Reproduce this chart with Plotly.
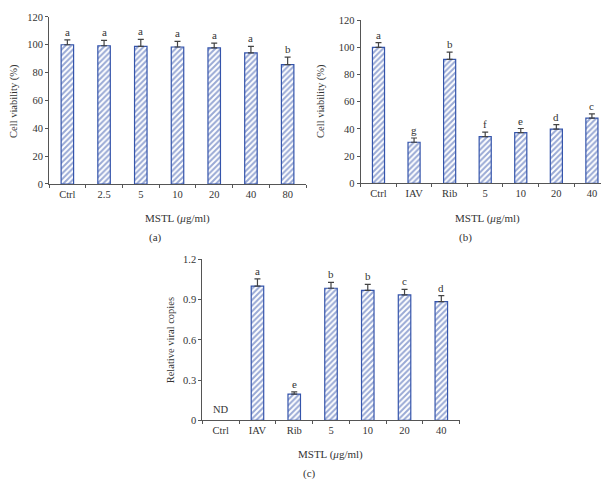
import plotly.graph_objects as go

# ---- data ----
cats_a = ["Ctrl", "2.5", "5", "10", "20", "40", "80"]
vals_a = [100.0, 99.3, 98.8, 98.4, 97.7, 94.1, 85.7]
err_a = [3.5, 3.8, 5.0, 4.0, 3.5, 4.7, 5.4]
letters_a = ["a", "a", "a", "a", "a", "a", "b"]

cats_b = ["Ctrl", "IAV", "Rib", "5", "10", "20", "40"]
vals_b = [100.0, 30.2, 91.1, 34.3, 37.2, 39.8, 48.0]
err_b = [3.4, 3.1, 5.3, 3.3, 3.1, 3.4, 3.1]
letters_b = ["a", "g", "b", "f", "e", "d", "c"]

cats_c = ["Ctrl", "IAV", "Rib", "5", "10", "20", "40"]
vals_c = [None, 1.0, 0.196, 0.984, 0.968, 0.934, 0.884]
err_c = [0, 0.054, 0.017, 0.044, 0.045, 0.041, 0.045]
letters_c = ["", "a", "e", "b", "b", "c", "d"]

xtitle = "MSTL (<i>μ</i>g/ml)"
ytitle_ab = "Cell viability (%)"
ytitle_c = "Relative viral copies"

FONT = "Liberation Serif"
BLUE = "#3454ab"
TXT = "#333333"
AX = "#555555"
W, H = 609, 479

def px_x(p):
    return p / W

def px_y(p):
    return (H - p) / H

fig = go.Figure()

panels = [
    (cats_a, vals_a, err_a, letters_a, "x", "y"),
    (cats_b, vals_b, err_b, letters_b, "x2", "y2"),
    (cats_c, vals_c, err_c, letters_c, "x3", "y3"),
]

for cats, vals, errs, letters, xa, ya in panels:
    fig.add_trace(go.Bar(
        x=cats, y=vals, xaxis=xa, yaxis=ya, width=0.34,
        marker=dict(color="white", line=dict(color=BLUE, width=1.2),
                    pattern=dict(shape="/", fgcolor=BLUE, size=4,
                                 solidity=0.5, fillmode="overlay")),
        error_y=dict(type="data", array=errs, arrayminus=[0] * len(errs),
                     symmetric=False, color="#444444", thickness=1.2, width=3),
        showlegend=False,
    ))
    for i, (v, e, l) in enumerate(zip(vals, errs, letters)):
        if v is None or not l:
            continue
        fig.add_annotation(x=i, y=v + e, xref=xa, yref=ya, text=l,
                           showarrow=False, yanchor="bottom", yshift=0,
                           font=dict(family=FONT, size=11, color=TXT))

fig.add_annotation(x=0, y=0.085, xref="x3", yref="y3", text="ND",
                   showarrow=False, font=dict(family=FONT, size=10.5, color=TXT))

axis_common = dict(showline=True, linecolor=AX, linewidth=1, ticks="outside",
                   ticklen=3, tickcolor=AX, showgrid=False, zeroline=False,
                   tickfont=dict(family=FONT, size=10.5, color=TXT))

domains = {
    "a": dict(x=[px_x(41), px_x(298)], y=[px_y(175), px_y(4)]),
    "b": dict(x=[px_x(352.7), px_x(601.7)], y=[px_y(174.3), px_y(7.3)]),
    "c": dict(x=[px_x(194.3), px_x(451.7)], y=[px_y(417), px_y(252)]),
}

xcommon = dict(type="category", tickson="boundaries", range=[-0.5, 6.5],
               tickangle=0, **axis_common)

fig.update_layout(
    width=W, height=H, margin=dict(l=0, r=0, t=0, b=0),
    paper_bgcolor="white", plot_bgcolor="white",
    xaxis=dict(domain=domains["a"]["x"], anchor="y", categoryarray=cats_a,
               categoryorder="array", **xcommon),
    yaxis=dict(domain=domains["a"]["y"], anchor="x", range=[0, 120], dtick=20,
               **axis_common),
    xaxis2=dict(domain=domains["b"]["x"], anchor="y2", categoryarray=cats_b,
                categoryorder="array", **xcommon),
    yaxis2=dict(domain=domains["b"]["y"], anchor="x2", range=[0, 120], dtick=20,
                **axis_common),
    xaxis3=dict(domain=domains["c"]["x"], anchor="y3", categoryarray=cats_c,
                categoryorder="array", **xcommon),
    yaxis3=dict(domain=domains["c"]["y"], anchor="x3", range=[0, 1.2], dtick=0.3,
                **axis_common),
)

title_font = dict(family=FONT, size=11, color=TXT)
# axis titles and panel labels
for xc, yc, text in [(169, 210, xtitle), (479, 210, xtitle), (322, 451.5, xtitle),
                     (147, 230, "(a)"), (457.5, 230, "(b)"), (301.7, 471, "(c)")]:
    fig.add_annotation(x=px_x(xc), y=px_y(yc), xref="paper", yref="paper",
                       text=text, showarrow=False, font=title_font,
                       xanchor="center", yanchor="middle")
for xc, yc, text in [(6, 90, ytitle_ab), (313, 90, ytitle_ab), (162, 335, ytitle_c)]:
    fig.add_annotation(x=px_x(xc), y=px_y(yc), xref="paper", yref="paper",
                       text=text, showarrow=False, textangle=-90,
                       font=dict(family=FONT, size=10.5, color=TXT),
                       xanchor="center", yanchor="middle")

fig.write_html("out.html")
